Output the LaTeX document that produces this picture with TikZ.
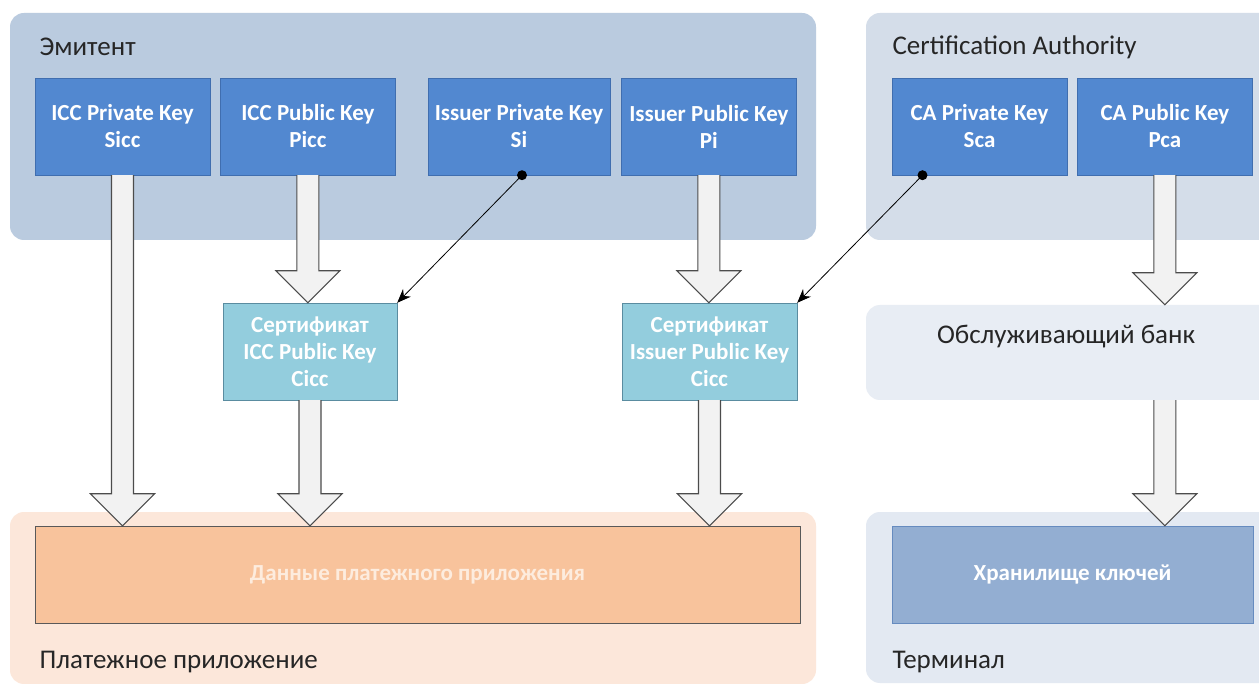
\documentclass[tikz,border=0pt]{standalone}
\usepackage{fontspec}
\setmainfont{Carlito}
\usetikzlibrary{positioning,calc,arrows.meta}
\tikzset{>=Stealth}

\definecolor{issuerbg}{RGB}{186,203,223}
\definecolor{cabg}{RGB}{212,221,233}
\definecolor{bankbg}{RGB}{232,237,244}
\definecolor{termbg}{RGB}{227,233,242}
\definecolor{paybg}{RGB}{252,231,218}
\definecolor{keyblue}{RGB}{82,136,208}
\definecolor{keyedge}{RGB}{64,110,175}
\definecolor{certteal}{RGB}{147,205,221}
\definecolor{certedge}{RGB}{90,140,160}
\definecolor{dataorange}{RGB}{248,195,156}
\definecolor{datatext}{RGB}{253,236,222}
\definecolor{storeblue}{RGB}{147,174,210}

\tikzset{
  panel/.style={rounded corners=14pt},
  keybox/.style={draw=keyedge, fill=keyblue, text=white, align=center,
    font=\bfseries\fontsize{23}{27}\selectfont, inner sep=0pt,
    minimum width=175pt, minimum height=97pt},
  certbox/.style={keybox, draw=certedge, fill=certteal},
  wide/.style={keybox, draw=black!65, minimum height=97pt},
  title/.style={anchor=west, text=black!85, font=\fontsize{27}{30}\selectfont},
  bigarrow/.style={draw=black!70, fill=black!5, line width=1.1pt},
  link/.style={->, line width=0.8pt, >={Stealth[length=14pt,width=11pt]}},
}

% fat arrow from #1 down to the tip #2
\newcommand*{\blockarrow}[2]{%
  \draw[bigarrow] ($(#1)+(-11,0)$) -- ($(#2)+(-11,-32)$) -- ($(#2)+(-32,-32)$)
    -- (#2) -- ($(#2)+(32,-32)$) -- ($(#2)+(11,-32)$) -- ($(#1)+(11,0)$);
}

\begin{document}
\begin{tikzpicture}[x=1pt,y=-1pt]
\clip (0,0) rectangle (1259,684);
\fill[white] (0,0) rectangle (1259,684);

% Panels
\fill[panel,issuerbg] (10,13) rectangle (816,240);
\fill[panel,cabg] (866,13) rectangle (1290,240);
\fill[panel,paybg] (10,512) rectangle (816,684);
\fill[panel,termbg] (866,512) rectangle (1290,683);
\node[panel, fill=bankbg, minimum width=420pt, minimum height=95pt,
  inner sep=0pt] (bank) at (1076,352.5) {};

% Panel titles
\node[title] (issuer) at (36,47) {Эмитент};
\node[title] (ca) at (889,47) {Certification Authority};
\node[title] (payapp) at (36,662) {Платежное приложение};
\node[title] (term) at (889,662) {Терминал};
\node[text=black!85, font=\fontsize{27}{30}\selectfont] (bankname)
  at (1066,337) {Обслуживающий банк};

% Keys
\node[keybox] (sicc) at (122.5,126.5) {ICC Private Key\\Sicc};
\node[keybox, right=10pt of sicc] (picc) {ICC Public Key\\Picc};
\node[keybox, minimum width=182pt] (si) at (519,126.5)
  {Issuer Private Key\\Si};
\node[keybox, right=11pt of si] (pi) {Issuer Public Key\\Pi};
\node[keybox] (sca) at (979.5,126.5) {CA Private Key\\Sca};
\node[keybox, right=10pt of sca] (pca) {CA Public Key\\Pca};

% Certificates
\node[certbox, minimum width=174pt] (cicc) at (310,351.5)
  {Сертификат\\ICC Public Key\\Cicc};
\node[certbox] (cpi) at (709.5,351.5)
  {Сертификат\\Issuer Public Key\\Cicc};

% Storage
\node[wide, fill=dataorange, text=datatext, minimum width=765pt]
  (data) at (417.5,574.5) {Данные платежного приложения};
\node[wide, draw=keyedge!80, fill=storeblue, minimum width=361pt]
  (store) at (1072.5,574.5) {Хранилище ключей};

% Fat arrows
\blockarrow{sicc.south}{sicc.south |- data.north}
\blockarrow{picc.south}{picc.south |- cicc.north}
\blockarrow{cicc.south}{cicc.south |- data.north}
\blockarrow{pi.south}{pi.south |- cpi.north}
\blockarrow{cpi.south}{cpi.south |- data.north}
\blockarrow{pca.south}{pca.south |- bank.north}
\blockarrow{pca.south |- bank.south}{pca.south |- store.north}

% Signing links
\coordinate (sidot) at ($(si.south)+(3,0)$);
\coordinate (scadot) at ($(sca.south)+(-57,0)$);
\draw[link] (sidot) -- (cicc.north east);
\draw[link] (scadot) -- (cpi.north east);
\fill (sidot) circle (5pt);
\fill (scadot) circle (5pt);
\end{tikzpicture}
\end{document}
